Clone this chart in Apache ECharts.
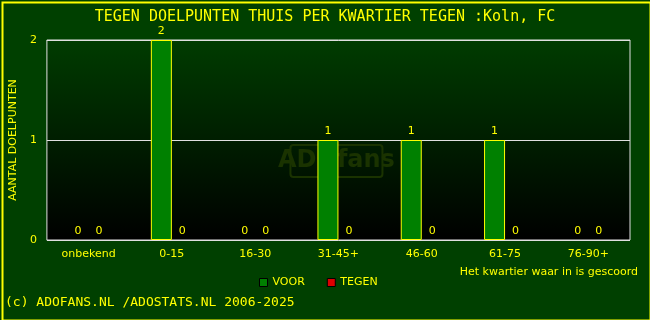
<!DOCTYPE html>
<html><head><meta charset="utf-8">
<script src="https://cdn.jsdelivr.net/npm/echarts@6/dist/echarts.min.js"></script>
<style>html,body{margin:0;padding:0;background:#004000}#c{width:650px;height:320px}</style>
</head><body><div id="c"></div>
<script>
const categories = ['onbekend','0-15','16-30','31-45+','46-60','61-75','76-90+'];
const voor = [0,2,0,1,1,1,0];
const tegen = [0,0,0,0,0,0,0];
const yTicks = [0,1,2];

const chart = echarts.init(document.getElementById('c'));
const lbl = {show:true, position:'top', color:'#ffff00', fontSize:11, fontFamily:'DejaVu Sans', distance:3};
const toItems = arr => arr.map(v => ({value:v, itemStyle: v === 0 ? {borderWidth:0} : {}}));
chart.setOption({
  backgroundColor:'#004000',
  animation:false,
  title:{text:'TEGEN DOELPUNTEN THUIS PER KWARTIER TEGEN :Koln, FC', left:'center', top:5,
    textStyle:{color:'#ffff00', fontFamily:'DejaVu Sans Mono', fontSize:15, fontWeight:'normal'}},
  legend:{data:['VOOR','TEGEN'], left:254, top:272, itemWidth:8, itemHeight:8, itemGap:22, icon:'rect',
    itemStyle:{borderColor:'#000000', borderWidth:1},
    textStyle:{color:'#ffff00', fontFamily:'DejaVu Sans', fontSize:11}},
  grid:{left:45, right:20, top:40, bottom:80, show:true, borderColor:'#e0e0e0', borderWidth:1,
    backgroundColor:{type:'linear', x:0, y:0, x2:0, y2:1, colorStops:[{offset:0,color:'#003c00'},{offset:1,color:'#000000'}]}},
  xAxis:{type:'category', data:categories, axisTick:{show:false}, axisLine:{show:false},
    axisLabel:{color:'#ffff00', fontFamily:'DejaVu Sans', fontSize:11, margin:9},
    name:'Het kwartier waar in is gescoord', nameLocation:'end', nameGap:0,
    nameTextStyle:{color:'#ffff00', fontFamily:'DejaVu Sans', fontSize:11, align:'right', verticalAlign:'top', padding:[27,-8,0,0]}},
  yAxis:{type:'value', min:yTicks[0], max:yTicks[yTicks.length-1], interval:1,
    axisLine:{show:false}, axisTick:{show:false},
    splitLine:{lineStyle:{color:'#e0e0e0', width:1}},
    axisLabel:{color:'#ffff00', fontFamily:'DejaVu Sans', fontSize:11, margin:10},
    name:'AANTAL DOELPUNTEN', nameLocation:'middle', nameGap:23, nameRotate:90,
    nameTextStyle:{color:'#ffff00', fontFamily:'DejaVu Sans', fontSize:11}},
  series:[
    {name:'VOOR', type:'bar', data:toItems(voor), barWidth:21, barGap:'0%',
      itemStyle:{color:'#008000', borderColor:'#ffff00', borderWidth:1}, label:lbl},
    {name:'TEGEN', type:'bar', data:toItems(tegen), barWidth:21,
      itemStyle:{color:'#dd0000', borderColor:'#ffff00', borderWidth:1}, label:lbl}
  ],
  graphic:[
    {type:'group', left:278, top:144, z:-1, silent:true, children:[
      {type:'rect', shape:{x:0,y:0,width:92,height:32,r:3}, style:{fill:'rgba(0,0,0,0)', stroke:'#1a3300', lineWidth:2}},
      {type:'text', style:{x:46, y:16, text:'ADOfans', align:'center', verticalAlign:'middle', fill:'#1a3300', font:'bold 24px DejaVu Sans'}}
    ]},
    {type:'text', left:5, top:296, style:{text:'(c) ADOFANS.NL /ADOSTATS.NL 2006-2025', fill:'#ffff00', font:'13px DejaVu Sans Mono'}},
    {type:'rect', left:0, top:0, shape:{x:1,y:1,width:648,height:318}, style:{fill:'none', stroke:'#ffff00', lineWidth:2}, silent:true}
  ]
});
</script></body></html>
